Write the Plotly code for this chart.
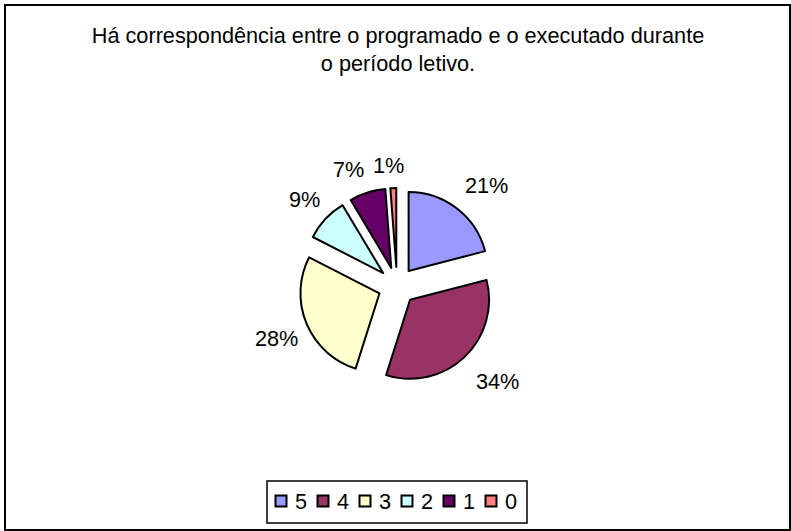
import math
import plotly.graph_objects as go

W, H = 791, 531
categories = ["5", "4", "3", "2", "1", "0"]
values = [21, 34, 27.7, 8.9, 7.4, 1.2]
colors = ["#9999FF", "#993366", "#FFFFCC", "#CCFFFF", "#660066", "#FF8080"]
pull = [0.24] * 6
title_text = "Há correspondência entre o programado e o executado durante<br>o período letivo."
label_radius = [134, 139, 132, 127, 126, 121]
label_shift_deg = [4, -3, -1, 0, -5, -2]
FONT = "Liberation Sans, Arial, sans-serif"
TEXT_SIZE = 21.7

cx, cy, size = 397, 286, 196


def px(x):
    return x / W


def py(y):
    return 1 - y / H


fig = go.Figure(go.Pie(
    labels=categories, values=values, sort=False, direction="clockwise", rotation=0,
    pull=pull, marker=dict(colors=colors, line=dict(color="#000000", width=2)),
    textinfo="none",
    domain=dict(x=[px(cx - size / 2), px(cx + size / 2)],
                y=[py(cy + size / 2), py(cy - size / 2)]),
    hoverinfo="label+percent",
))

annotations = []
total = sum(values)
cum = 0
for v, rad, shift in zip(values, label_radius, label_shift_deg):
    ang = math.radians((cum + v / 2) / total * 360 + shift)
    cum += v
    annotations.append(dict(
        x=px(cx + rad * math.sin(ang)), y=py(cy - rad * math.cos(ang)),
        xref="paper", yref="paper", xanchor="center", yanchor="middle",
        text=f"{v / total:.0%}", showarrow=False,
        font=dict(family=FONT, size=TEXT_SIZE, color="#000000"),
    ))

shapes = [
    dict(type="rect", xref="paper", yref="paper", x0=px(5), x1=px(790),
         y0=py(530), y1=py(5), line=dict(color="#000000", width=2)),
    dict(type="rect", xref="paper", yref="paper", x0=px(267), x1=px(527),
         y0=py(523), y1=py(481), line=dict(color="#000000", width=1.5), fillcolor="white"),
]
LEG_X0, LEG_PITCH, LEG_Y, SW = 281, 42, 501, 11
for i, (cat, col) in enumerate(zip(categories, colors)):
    xc = LEG_X0 + i * LEG_PITCH
    shapes.append(dict(type="rect", xref="paper", yref="paper",
                       x0=px(xc - SW / 2), x1=px(xc + SW / 2),
                       y0=py(LEG_Y + SW / 2), y1=py(LEG_Y - SW / 2),
                       fillcolor=col, line=dict(color="#000000", width=2)))
    annotations.append(dict(x=px(xc + 20), y=py(LEG_Y), xref="paper", yref="paper",
                            xanchor="center", yanchor="middle", text=cat, showarrow=False,
                            font=dict(family=FONT, size=TEXT_SIZE, color="#000000")))

fig.update_layout(
    width=W, height=H, autosize=False,
    margin=dict(l=0, r=0, t=0, b=0),
    paper_bgcolor="white", plot_bgcolor="white",
    font=dict(family=FONT, color="#000000"),
    title=dict(text=title_text, x=px(398), xanchor="center", y=py(43), yanchor="middle",
               font=dict(family=FONT, size=TEXT_SIZE, color="#000000")),
    showlegend=False,
    shapes=shapes,
    annotations=annotations,
)
fig.write_html("out.html", config={"displayModeBar": False},
               post_script="document.body.style.margin='0';")
